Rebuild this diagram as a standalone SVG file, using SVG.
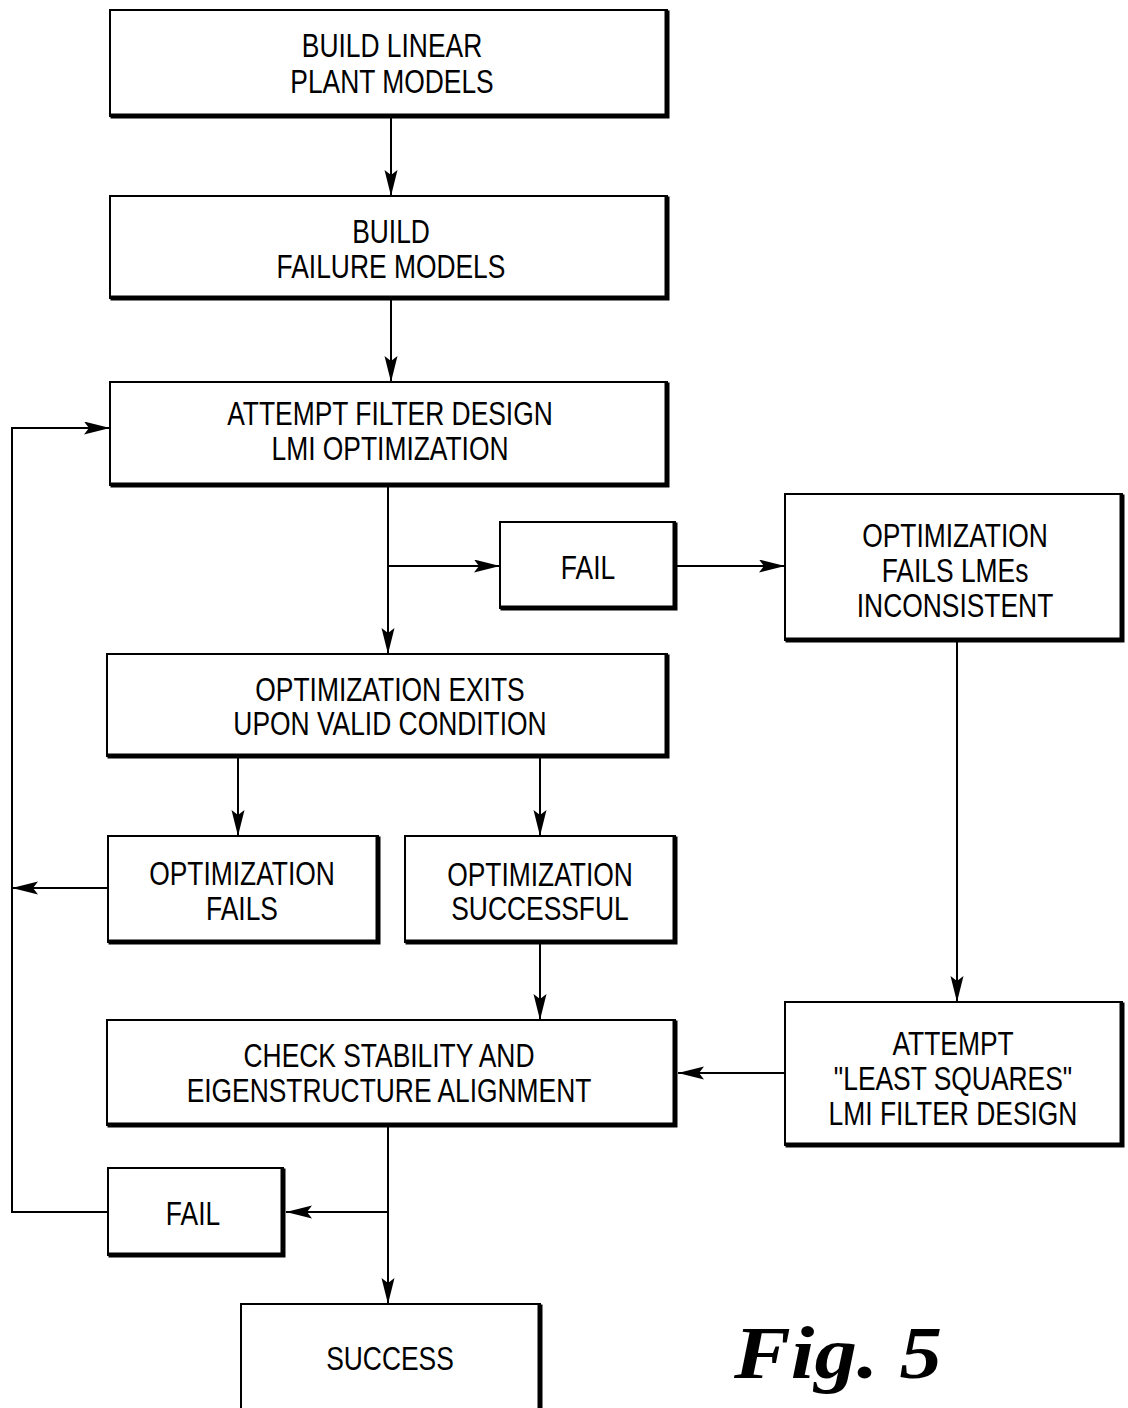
<svg xmlns="http://www.w3.org/2000/svg" width="1128" height="1408" viewBox="0 0 1128 1408">
  <defs>
    <style>
      .frame { fill: #fff; stroke: #000; stroke-width: 2; }
      .shadow { fill: none; stroke: #000; stroke-width: 5; stroke-linecap: square; }
      .label { font-family: "Liberation Sans", Arial, sans-serif; font-size: 33px; fill: #000; text-anchor: middle; }
      .wire { fill: none; stroke: #000; stroke-width: 2; }
      .arrow { marker-end: url(#head); }
      .fig { font-family: "Liberation Serif", "Times New Roman", serif; font-style: italic; font-weight: bold; font-size: 74px; fill: #000; }
    </style>
    <marker id="head" markerUnits="userSpaceOnUse" markerWidth="28" markerHeight="14" refX="26" refY="6.5" orient="auto">
      <path d="M0,0 L26,6.5 L0,13 L5,6.5 Z" fill="#000"/>
    </marker>
  </defs>
  <rect width="1128" height="1408" fill="#fff"/>

  <!-- labels are set in a horizontally condensed sans (scale 0.8 on x) -->
  <g id="build-linear">
    <rect class="frame" x="110" y="10" width="557" height="106"/>
    <path class="shadow" d="M667 13 V116 H113"/>
    <text class="label" transform="translate(392 57) scale(0.8 1)">BUILD LINEAR</text>
    <text class="label" transform="translate(392 93) scale(0.8 1)">PLANT MODELS</text>
  </g>

  <g id="build-failure">
    <rect class="frame" x="110" y="196" width="557" height="102"/>
    <path class="shadow" d="M667 199 V298 H113"/>
    <text class="label" transform="translate(391 243) scale(0.8 1)">BUILD</text>
    <text class="label" transform="translate(391 278) scale(0.8 1)">FAILURE MODELS</text>
  </g>

  <g id="attempt-filter">
    <rect class="frame" x="110" y="382" width="557" height="103"/>
    <path class="shadow" d="M667 385 V485 H113"/>
    <text class="label" transform="translate(390 425) scale(0.8 1)">ATTEMPT FILTER DESIGN</text>
    <text class="label" transform="translate(390 460) scale(0.8 1)">LMI OPTIMIZATION</text>
  </g>

  <g id="fail-upper">
    <rect class="frame" x="500" y="522" width="175" height="86"/>
    <path class="shadow" d="M675 525 V608 H503"/>
    <text class="label" transform="translate(588 579) scale(0.8 1)">FAIL</text>
  </g>

  <g id="lmes-inconsistent">
    <rect class="frame" x="785" y="494" width="337" height="146"/>
    <path class="shadow" d="M1122 497 V640 H788"/>
    <text class="label" transform="translate(955 547) scale(0.8 1)">OPTIMIZATION</text>
    <text class="label" transform="translate(955 582) scale(0.8 1)">FAILS LMEs</text>
    <text class="label" transform="translate(955 617) scale(0.8 1)">INCONSISTENT</text>
  </g>

  <g id="exits-valid">
    <rect class="frame" x="107" y="654" width="560" height="102"/>
    <path class="shadow" d="M667 657 V756 H110"/>
    <text class="label" transform="translate(390 701) scale(0.8 1)">OPTIMIZATION EXITS</text>
    <text class="label" transform="translate(390 735) scale(0.8 1)">UPON VALID CONDITION</text>
  </g>

  <g id="opt-fails">
    <rect class="frame" x="108" y="836" width="270" height="106"/>
    <path class="shadow" d="M378 839 V942 H111"/>
    <text class="label" transform="translate(242 885) scale(0.8 1)">OPTIMIZATION</text>
    <text class="label" transform="translate(242 920) scale(0.8 1)">FAILS</text>
  </g>

  <g id="opt-successful">
    <rect class="frame" x="405" y="836" width="270" height="106"/>
    <path class="shadow" d="M675 839 V942 H408"/>
    <text class="label" transform="translate(540 886) scale(0.8 1)">OPTIMIZATION</text>
    <text class="label" transform="translate(540 920) scale(0.8 1)">SUCCESSFUL</text>
  </g>

  <g id="check-stability">
    <rect class="frame" x="107" y="1020" width="568" height="105"/>
    <path class="shadow" d="M675 1023 V1125 H110"/>
    <text class="label" transform="translate(389 1067) scale(0.8 1)">CHECK STABILITY AND</text>
    <text class="label" transform="translate(389 1102) scale(0.8 1)">EIGENSTRUCTURE ALIGNMENT</text>
  </g>

  <g id="least-squares">
    <rect class="frame" x="785" y="1002" width="337" height="143"/>
    <path class="shadow" d="M1122 1005 V1145 H788"/>
    <text class="label" transform="translate(953 1055) scale(0.8 1)">ATTEMPT</text>
    <text class="label" transform="translate(953 1090) scale(0.8 1)">"LEAST SQUARES"</text>
    <text class="label" transform="translate(953 1125) scale(0.8 1)">LMI FILTER DESIGN</text>
  </g>

  <g id="fail-lower">
    <rect class="frame" x="108" y="1168" width="175" height="87"/>
    <path class="shadow" d="M283 1171 V1255 H111"/>
    <text class="label" transform="translate(193 1225) scale(0.8 1)">FAIL</text>
  </g>

  <g id="success">
    <rect class="frame" x="241" y="1304" width="299" height="110"/>
    <path class="shadow" d="M540 1307 V1414"/>
    <text class="label" transform="translate(390 1370) scale(0.8 1)">SUCCESS</text>
  </g>

  <g id="connectors">
    <path class="wire arrow" d="M391 118 V196"/>
    <path class="wire arrow" d="M391 300 V382"/>
    <path class="wire arrow" d="M388 487 V654"/>
    <path class="wire arrow" d="M388 566 H500"/>
    <path class="wire arrow" d="M677 566 H785"/>
    <path class="wire arrow" d="M957 642 V1002"/>
    <path class="wire arrow" d="M785 1073 H678"/>
    <path class="wire arrow" d="M238 758 V836"/>
    <path class="wire arrow" d="M540 758 V836"/>
    <path class="wire arrow" d="M108 888 H12"/>
    <path class="wire arrow" d="M108 1212 H12 V428 H110"/>
    <path class="wire arrow" d="M540 944 V1020"/>
    <path class="wire arrow" d="M388 1127 V1304"/>
    <path class="wire arrow" d="M388 1212 H286"/>
  </g>

  <text class="fig" x="734" y="1378" textLength="208" lengthAdjust="spacingAndGlyphs">Fig. 5</text>
</svg>
